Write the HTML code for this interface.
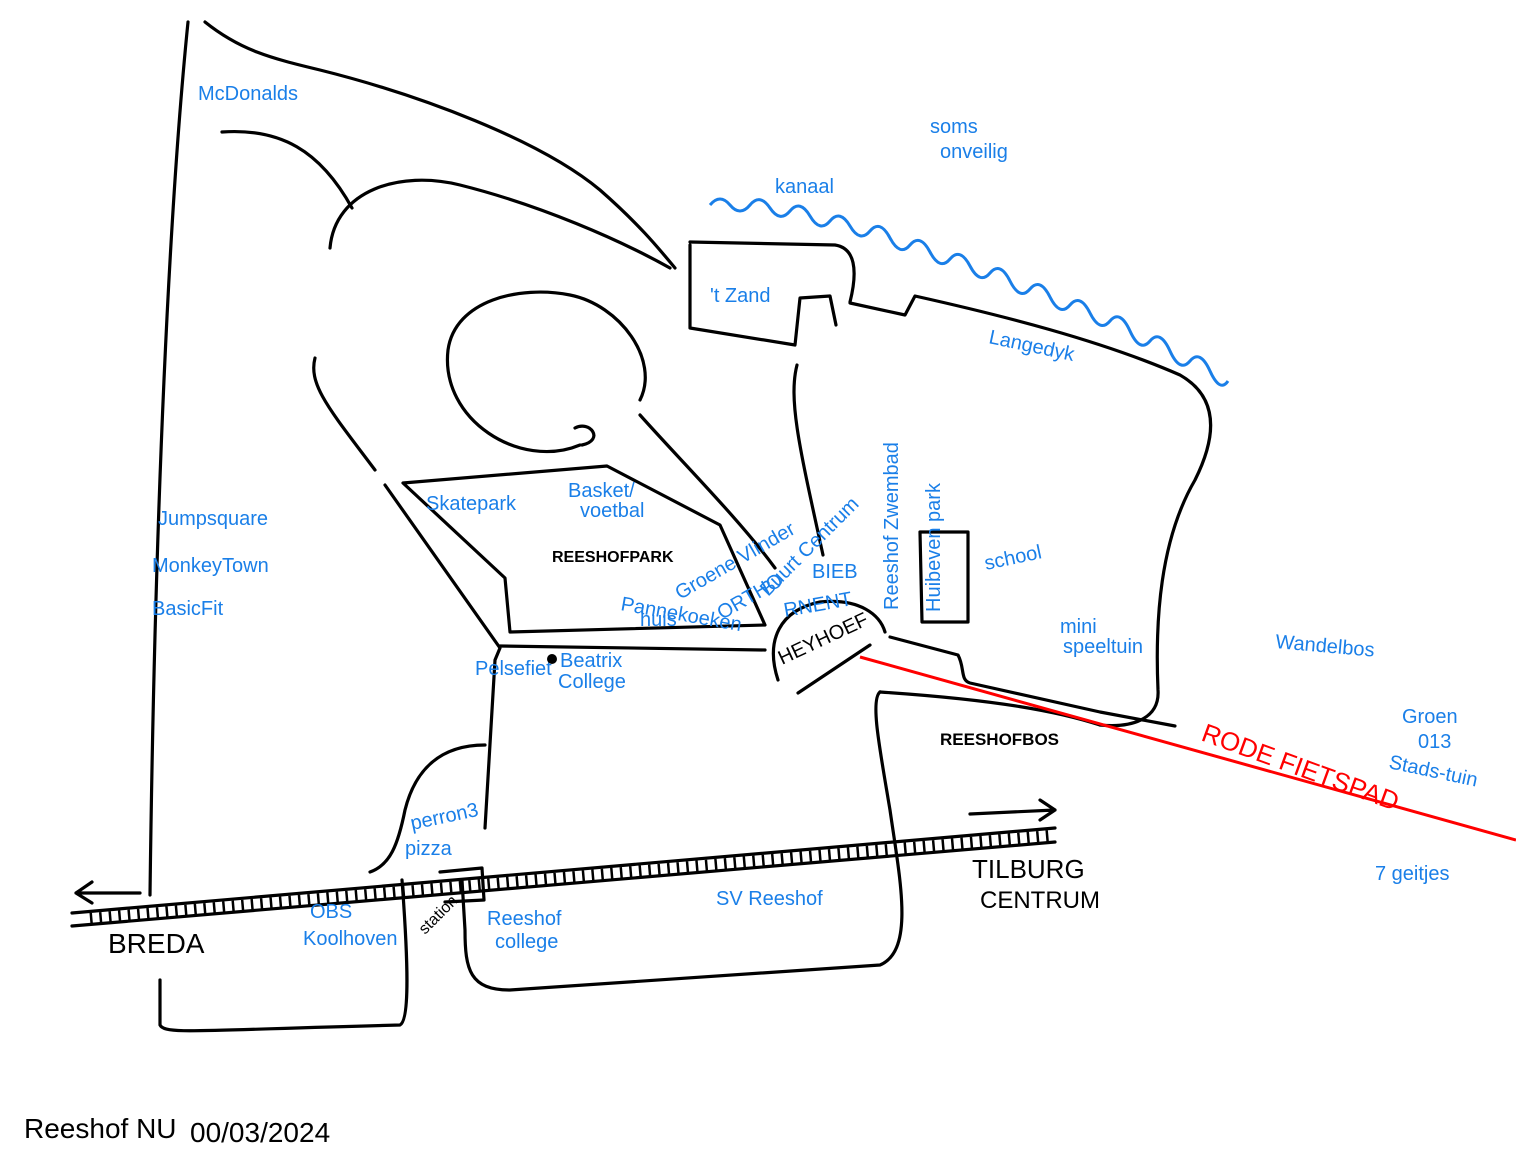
<!DOCTYPE html>
<html><head><meta charset="utf-8"><style>
html,body{margin:0;padding:0;background:#fff;}
svg{display:block}
.k{fill:none;stroke:#000;stroke-width:3.2;stroke-linecap:round;stroke-linejoin:round}
.b{font-family:"Liberation Sans Narrow","Liberation Sans",sans-serif;fill:#1a7fe8;font-size:20px}
.t{font-family:"Liberation Sans Narrow","Liberation Sans",sans-serif;fill:#000}
</style></head><body>
<svg width="1516" height="1158" viewBox="0 0 1516 1158">
<path class="k" d="M188,22 C170,200 155,500 150,895"/>
<path class="k" d="M205,22 C240,50 270,58 320,70 C420,95 540,140 600,190 C640,225 660,250 675,268"/>
<path class="k" d="M222,132 C280,128 320,150 352,208"/>
<path class="k" d="M330,248 C335,190 400,170 460,185 C540,205 620,240 670,268"/>
<path class="k" d="M690,245 L690,328 L795,345 L800,298 L830,296 L836,325"/>
<path class="k" d="M690,242 L835,245 C855,248 858,270 850,302"/>
<path class="k" d="M850,303 L905,315 L915,296 C1000,315 1100,340 1180,375 C1215,395 1220,430 1195,480 C1160,540 1155,620 1158,690 C1160,720 1130,728 1100,725"/>
<path class="k" d="M890,637 L958,655 C965,668 960,680 970,683 L1100,712 L1175,726"/>
<path class="k" d="M582,445 C605,440 590,420 575,428"/>
<path class="k" d="M580,445 C520,470 440,420 448,350 C455,300 520,285 570,295 C620,305 660,360 640,400"/>
<path class="k" d="M315,358 C308,385 330,410 375,470"/>
<path class="k" d="M385,485 L500,648 L495,660 L485,828"/>
<path class="k" d="M403,483 L607,466 L720,525 L765,625 L510,632 L505,578 Z"/>
<path class="k" d="M500,646 L765,650"/>
<path class="k" d="M640,415 C680,460 740,520 775,568"/>
<path class="k" d="M797,365 C788,400 800,450 823,555"/>
<path class="k" d="M778,680 C765,640 780,610 820,602 C860,598 880,615 885,632"/>
<path class="k" d="M798,693 L870,645"/>
<path class="k" d="M920,532 L968,532 L968,622 L922,622 Z"/>
<path class="k" d="M880,692 C1000,700 1060,712 1100,725"/>
<path class="k" d="M880,692 C870,700 880,750 890,810 C900,880 915,950 880,965 L510,990 C470,990 465,970 465,930 L462,880"/>
<path class="k" d="M485,745 C440,745 415,770 405,810 C398,845 390,865 370,872"/>
<path class="k" d="M160,980 L160,1025 C165,1035 200,1030 400,1025 C410,1020 408,960 402,880"/>
<path class="k" d="M440,872 L482,868 L484,900 L445,902"/>
<path class="k" d="M72,913 L1055,828"/>
<path class="k" d="M72,926 L1055,842"/>
<path d="M90,912 L1050,829" stroke="#000" stroke-width="12" stroke-dasharray="2.5,7" fill="none" transform="translate(0,7)"/>
<path class="k" d="M140,893 L76,893 M92,882 L76,893 L92,903"/>
<path class="k" d="M970,814 L1055,810 M1040,800 L1055,810 L1040,820"/>
<path d="M860,657 L1516,840" stroke="#f00" stroke-width="3" fill="none"/>
<path d="M710,205 q10,-12 20,0 t20,0 t20,3 t20,3 t20,5 t20,5 t20,5 t20,5 t20,7 t20,7 t20,7 t20,7 t20,7 t20,7 t20,8 t20,8 t20,8 t20,8 t20,8 t20,8 t20,10 t20,10 t20,10 t20,10 t20,10 t18,10" stroke="#1a7fe8" stroke-width="3" fill="none"/>
<text class="b" x="198" y="100">McDonalds</text>
<text class="b" x="930" y="133">soms</text>
<text class="b" x="940" y="158">onveilig</text>
<text class="b" x="775" y="193" font-size="24">kanaal</text>
<text class="b" x="710" y="302">'t Zand</text>
<text class="b" x="988" y="343" transform="rotate(12 988 343)">Langedyk</text>
<text class="b" x="158" y="525" font-size="24">Jumpsquare</text>
<text class="b" x="152" y="572" font-size="21">MonkeyTown</text>
<text class="b" x="152" y="615" font-size="21">BasicFit</text>
<text class="b" x="426" y="510">Skatepark</text>
<text class="b" x="568" y="497">Basket/</text>
<text class="b" x="580" y="517">voetbal</text>
<text class="t" x="552" y="562" font-size="16" font-weight="bold">REESHOFPARK</text>
<text class="b" x="680" y="600" font-size="12" transform="rotate(-30 680 600)">Groene Vlinder</text>
<text class="b" x="620" y="610" font-size="12" transform="rotate(10 620 610)">Pannekoeken</text>
<text class="b" x="640" y="626" font-size="12">huis</text>
<text class="b" x="722" y="620" font-size="11" transform="rotate(-30 722 620)">ORTHO</text>
<text class="b" x="768" y="597" font-size="11" transform="rotate(-45 768 597)">Buurt Centrum</text>
<text class="b" x="812" y="578" font-size="15">BIEB</text>
<text class="b" x="785" y="617" font-size="13" transform="rotate(-10 785 617)">RNENT</text>
<text class="t" x="782" y="665" font-size="20" transform="rotate(-25 782 665)">HEYHOEF</text>
<text class="b" x="898" y="610" font-size="12" transform="rotate(-90 898 610)">Reeshof Zwembad</text>
<text class="b" x="940" y="612" font-size="13" transform="rotate(-90 940 612)">Huibeven park</text>
<text class="b" x="986" y="570" transform="rotate(-12 986 570)">school</text>
<text class="b" x="1060" y="633">mini</text>
<text class="b" x="1063" y="653" font-size="17">speeltuin</text>
<text class="b" x="1275" y="648" font-size="22" transform="rotate(5 1275 648)">Wandelbos</text>
<text class="b" x="1402" y="723" font-size="22">Groen</text>
<text class="b" x="1418" y="748">013</text>
<text class="b" x="1388" y="768" transform="rotate(12 1388 768)">Stads-tuin</text>
<text x="1200" y="740" font-family="Liberation Sans Narrow,Liberation Sans,sans-serif" fill="#f00" font-size="26" transform="rotate(20 1200 740)">RODE FIETSPAD</text>
<text class="t" x="940" y="745" font-size="17" font-weight="bold">REESHOFBOS</text>
<text class="b" x="475" y="675" font-size="15">Pelsefiet</text>
<circle cx="552" cy="659" r="5" fill="#000"/>
<text class="b" x="560" y="667" font-size="17">Beatrix</text>
<text class="b" x="558" y="688" font-size="17">College</text>
<text class="b" x="412" y="830" font-size="18" transform="rotate(-12 412 830)">perron3</text>
<text class="b" x="405" y="855">pizza</text>
<text class="b" x="310" y="918" font-size="16">OBS</text>
<text class="b" x="303" y="945">Koolhoven</text>
<text class="t" x="425" y="935" font-size="16" transform="rotate(-45 425 935)">station</text>
<text class="b" x="487" y="925">Reeshof</text>
<text class="b" x="495" y="948">college</text>
<text class="b" x="716" y="905" font-size="24">SV Reeshof</text>
<text class="t" x="972" y="878" font-size="26">TILBURG</text>
<text class="t" x="980" y="908" font-size="24">CENTRUM</text>
<text class="t" x="108" y="953" font-size="28">BREDA</text>
<text class="b" x="1375" y="880" font-size="22">7 geitjes</text>
<text class="t" x="24" y="1138" font-size="28">Reeshof NU</text>
<text class="t" x="190" y="1142" font-size="28">00/03/2024</text>
</svg>
</body></html>
